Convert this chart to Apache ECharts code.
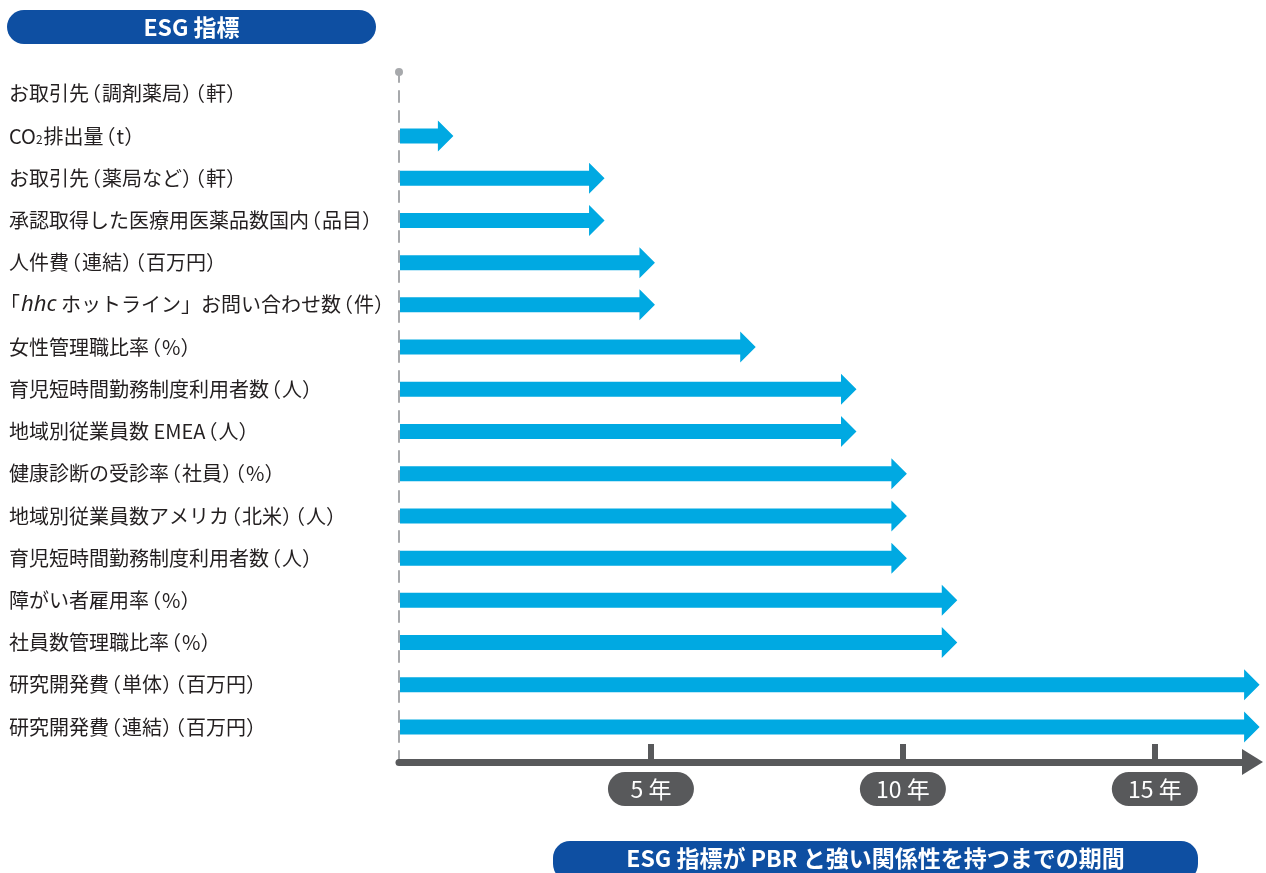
<!DOCTYPE html>
<html>
<head>
<meta charset="utf-8">
<script src="https://cdn.jsdelivr.net/npm/echarts@6/dist/echarts.min.js"></script>
<style>
  html, body { margin: 0; padding: 0; background: #fff; }
  #chart { width: 1266px; height: 873px; }
</style>
</head>
<body>
<div id="chart"></div>
<script>
// ESG indicators, top to bottom
const categories = [
  'お取引先（調剤薬局）（軒）',
  'CO₂排出量（t）',
  'お取引先（薬局など）（軒）',
  '承認取得した医療用医薬品数国内（品目）',
  '人件費（連結）（百万円）',
  '「hhc ホットライン」お問い合わせ数（件）',
  '女性管理職比率（%）',
  '育児短時間勤務制度利用者数（人）',
  '地域別従業員数 EMEA（人）',
  '健康診断の受診率（社員）（%）',
  '地域別従業員数アメリカ（北米）（人）',
  '育児短時間勤務制度利用者数（人）',
  '障がい者雇用率（%）',
  '社員数管理職比率（%）',
  '研究開発費（単体）（百万円）',
  '研究開発費（連結）（百万円）'
];

// years until each indicator shows a strong relation to PBR
const years = [0, 1, 4, 4, 5, 5, 7, 9, 9, 10, 10, 10, 11, 11, 17, 17];

// labelled ticks on the time axis
const yearTicks = [5, 10, 15];

const TITLE_TOP = 'ESG 指標';
const TITLE_BOTTOM = 'ESG 指標が PBR と強い関係性を持つまでの期間';

const BAR_COLOR = '#00a9e2';
const AXIS_COLOR = '#58595b';
const TITLE_BLUE = '#0e4fa2';
const TEXT_COLOR = '#231f20';
const JP_FONT = '"Noto Sans CJK JP", "Noto Sans", sans-serif';

const X_MAX = 16.73;
const SHAFT_HALF = 7.5;
const HEAD_HALF = 15.5;
const HEAD_LEN = 15.5;
const TIP_OVERSHOOT = 4;

function renderArrow(params, api) {
  const v = api.value(0);
  const idx = api.value(1);
  if (!v) return null;
  const start = api.coord([0, idx]);
  const end = api.coord([v, idx]);
  const cy = start[1];
  const x0 = start[0] + 1;
  const tip = end[0] + TIP_OVERSHOOT;
  const neck = tip - HEAD_LEN;
  return {
    type: 'polygon',
    shape: {
      points: [
        [x0, cy - SHAFT_HALF], [neck, cy - SHAFT_HALF], [neck, cy - HEAD_HALF],
        [tip, cy], [neck, cy + HEAD_HALF], [neck, cy + SHAFT_HALF], [x0, cy + SHAFT_HALF]
      ]
    },
    style: { fill: BAR_COLOR }
  };
}

// Split a label into rich-text runs: brackets get tight widths,
// the subscript 2 and the italic brand name get their own styles.
const SPECIAL = { '（': 'o', '）': 'c', '「': 'lb', '₂': 'sub' };
function formatCategory(name) {
  let out = '';
  let run = '';
  const flush = () => { if (run) { out += '{t|' + run + '}'; run = ''; } };
  for (let i = 0; i < name.length; i++) {
    if (name.substr(i, 3) === 'hhc') {
      flush();
      out += '{i|hhc}';
      i += 2;
      continue;
    }
    const ch = name[i];
    const key = SPECIAL[ch];
    if (key) {
      flush();
      out += '{' + key + '|' + (ch === '₂' ? '2' : ch) + '}';
    } else {
      run += ch;
    }
  }
  flush();
  return out;
}

const labelBase = { fontSize: 20, color: TEXT_COLOR, fontFamily: JP_FONT, lineHeight: 26 };

function pill(left, top, width, height, text) {
  return {
    type: 'group',
    left: left,
    top: top,
    children: [
      { type: 'rect', shape: { x: 0, y: 0, width: width, height: height, r: 17 }, style: { fill: TITLE_BLUE } },
      {
        type: 'text', x: width / 2, y: 17,
        style: {
          text: text, fill: '#fff', fontSize: 23, fontWeight: 'bold', fontFamily: JP_FONT,
          align: 'center', verticalAlign: 'middle'
        }
      }
    ]
  };
}

const chart = echarts.init(document.getElementById('chart'), null, { renderer: 'canvas' });

chart.setOption({
  backgroundColor: '#fff',
  animation: false,
  graphic: [
    pill(7, 10, 369, 34, TITLE_TOP),
    pill(553, 841, 645, 40, TITLE_BOTTOM)
  ],
  grid: [
    { left: 399, width: 843, top: 72.7, height: 675.4, containLabel: false, outerBoundsMode: 'none' },
    { left: 399, width: 843, top: 72, height: 690, containLabel: false, outerBoundsMode: 'none' }
  ],
  xAxis: [
    { gridIndex: 0, type: 'value', min: 0, max: X_MAX, show: false },
    {
      gridIndex: 1, type: 'value', min: 0, max: X_MAX,
      splitLine: { show: false },
      axisLine: {
        show: true, onZero: false,
        symbol: ['none', 'triangle'], symbolSize: [26, 21], symbolOffset: [0, 10.5],
        lineStyle: { color: AXIS_COLOR, width: 7 }
      },
      axisTick: {
        show: true, inside: true, length: 18, customValues: yearTicks,
        lineStyle: { color: AXIS_COLOR, width: 6 }
      },
      axisLabel: {
        show: true, customValues: yearTicks, margin: 10,
        formatter: v => v + ' 年',
        color: '#fff', fontSize: 23, fontFamily: JP_FONT, lineHeight: 24,
        backgroundColor: AXIS_COLOR, borderRadius: 17, padding: [5, 0, 5, 0],
        width: 86, align: 'center'
      }
    }
  ],
  yAxis: [
    {
      gridIndex: 0, type: 'category', data: categories, inverse: true,
      axisLine: { show: false }, axisTick: { show: false }, splitLine: { show: false },
      axisLabel: {
        align: 'left', margin: 390,
        formatter: formatCategory,
        rich: {
          t: labelBase,
          i: Object.assign({}, labelBase, { fontSize: 22, fontFamily: '"Noto Sans", sans-serif', fontStyle: 'italic' }),
          sub: Object.assign({}, labelBase, { fontSize: 12, lineHeight: 20, padding: [6, 1, 0, 0] }),
          // opening brackets: narrow cell, glyph pulled left inside it
          o: Object.assign({}, labelBase, { width: 4, align: 'center', padding: [0, 9, 0, 0] }),
          lb: Object.assign({}, labelBase, { width: 2, align: 'center', padding: [0, 10, 0, 0] }),
          // closing bracket: narrow cell, glyph kept on the left
          c: Object.assign({}, labelBase, { width: 2, padding: [0, 0, 0, 9] })
        }
      }
    },
    {
      gridIndex: 1, type: 'value', min: 0, max: 1,
      axisLabel: { show: false }, axisTick: { show: false }, splitLine: { show: false },
      axisLine: {
        show: true, onZero: false,
        symbol: ['none', 'circle'], symbolSize: [8, 8],
        lineStyle: { color: '#a7a9ac', width: 2, type: [11, 9] }
      }
    }
  ],
  series: [
    {
      type: 'custom',
      xAxisIndex: 0,
      yAxisIndex: 0,
      renderItem: renderArrow,
      encode: { x: 0, y: 1 },
      clip: false,
      data: years.map((v, i) => [v, i])
    }
  ]
});
</script>
</body>
</html>
